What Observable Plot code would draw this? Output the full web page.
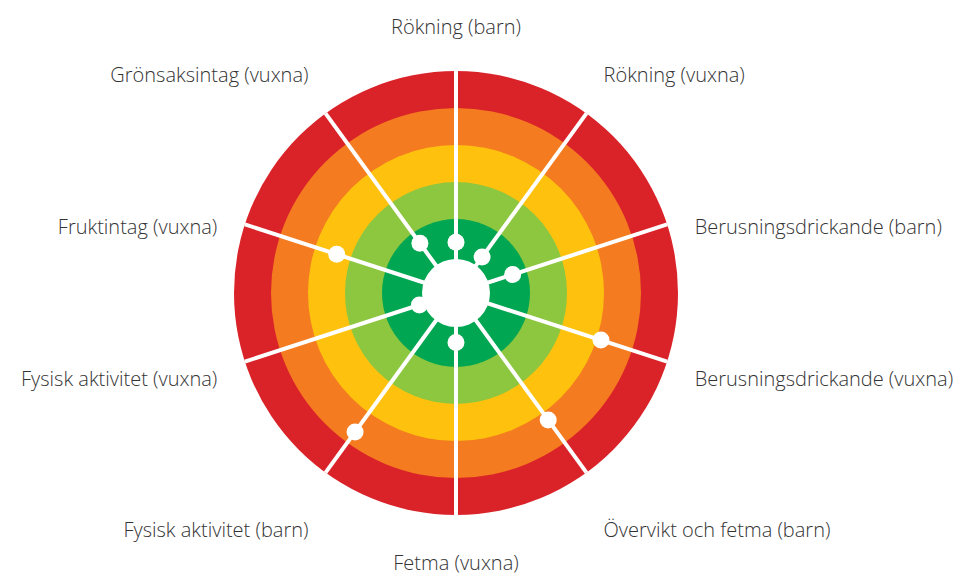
<!DOCTYPE html>
<html>
<head>
<meta charset="utf-8">
<script src="https://cdn.jsdelivr.net/npm/d3@7"></script>
<script src="https://cdn.jsdelivr.net/npm/@observablehq/plot@0.6"></script>
<style>
  html, body { margin: 0; padding: 0; background: #fff; }
  svg { display: block; }
</style>
</head>
<body>
<div id="chart"></div>
<script>
// ---- data ----
const categories = [
  "Rökning (barn)",
  "Rökning (vuxna)",
  "Berusningsdrickande (barn)",
  "Berusningsdrickande (vuxna)",
  "Övervikt och fetma (barn)",
  "Fetma (vuxna)",
  "Fysisk aktivitet (barn)",
  "Fysisk aktivitet (vuxna)",
  "Fruktintag (vuxna)",
  "Grönsaksintag (vuxna)"
];
const values = [1.37, 1.20, 1.61, 4.12, 4.24, 1.34, 4.64, 1.04, 3.39, 1.66];
const levelNames = ["nivå 1", "nivå 2", "nivå 3", "nivå 4", "nivå 5"];
const levelLimits = [2, 3, 4, 5, 6];
const levelColors = ["#00a651", "#8dc63f", "#fec20e", "#f47b20", "#da2229"];

// ---- layout ----
const W = 953, H = 577;
const cx = 455.5, cy = 292.5;      // centre in pixels
const unit = 37;                   // pixels per level unit
const maxLevel = d3.max(levelLimits);
const n = categories.length;
const angle = i => i * 2 * Math.PI / n;

const rings = levelLimits
  .map((limit, k) => ({ x: 0, y: 0, limit, name: levelNames[k] }))
  .sort((a, b) => b.limit - a.limit);

const spokes = categories.map((c, i) => ({
  x1: 0, y1: 0,
  x2: maxLevel * Math.sin(angle(i)),
  y2: maxLevel * Math.cos(angle(i))
}));

const points = categories.map((c, i) => ({
  category: c,
  value: values[i],
  x: values[i] * Math.sin(angle(i)),
  y: values[i] * Math.cos(angle(i))
}));

// label placement (pixel offsets from centre -> level units)
const labels = categories.map((c, i) => {
  const a = angle(i);
  const deg = i * 360 / n;
  const phi = Math.min(deg, 360 - deg);
  const s = Math.sin(a);
  const side = Math.abs(s) < 1e-6;
  const px = 251 * s;
  const base = side ? 8.9 - 268.1 * Math.cos(a) : 16.7 + 4.214 * (phi - 90);
  return {
    category: c,
    x: px / unit,
    y: -base / unit,
    anchor: side ? "middle" : (s > 0 ? "start" : "end")
  };
});

const textStyle = {
  x: "x", y: "y", text: "category",
  lineAnchor: "bottom",
  fontSize: 20,
  fontFamily: "Open Sans",
  fontWeight: 300,
  fill: "#333333"
};

const chart = Plot.plot({
  width: W,
  height: H,
  margin: 0,
  x: { domain: [-cx / unit, (W - cx) / unit], axis: null },
  y: { domain: [-(H - cy) / unit, cy / unit], axis: null },
  r: { type: "linear", domain: [0, 1], range: [0, unit] },
  color: { domain: levelNames, range: levelColors },
  marks: [
    Plot.dot(rings, { x: "x", y: "y", r: "limit", fill: "name", stroke: null }),
    Plot.dot([{ x: 0, y: 0 }], { x: "x", y: "y", r: 34, fill: "white" }),
    Plot.link(spokes, { x1: "x1", y1: "y1", x2: "x2", y2: "y2", stroke: "white", strokeWidth: 4 }),
    Plot.dot(points, { x: "x", y: "y", r: 8.5, fill: "white" }),
    Plot.text(labels.filter(d => d.anchor === "middle"), { ...textStyle, textAnchor: "middle" }),
    Plot.text(labels.filter(d => d.anchor === "start"), { ...textStyle, textAnchor: "start" }),
    Plot.text(labels.filter(d => d.anchor === "end"), { ...textStyle, textAnchor: "end" })
  ]
});

document.getElementById("chart").appendChild(chart);
</script>
</body>
</html>
